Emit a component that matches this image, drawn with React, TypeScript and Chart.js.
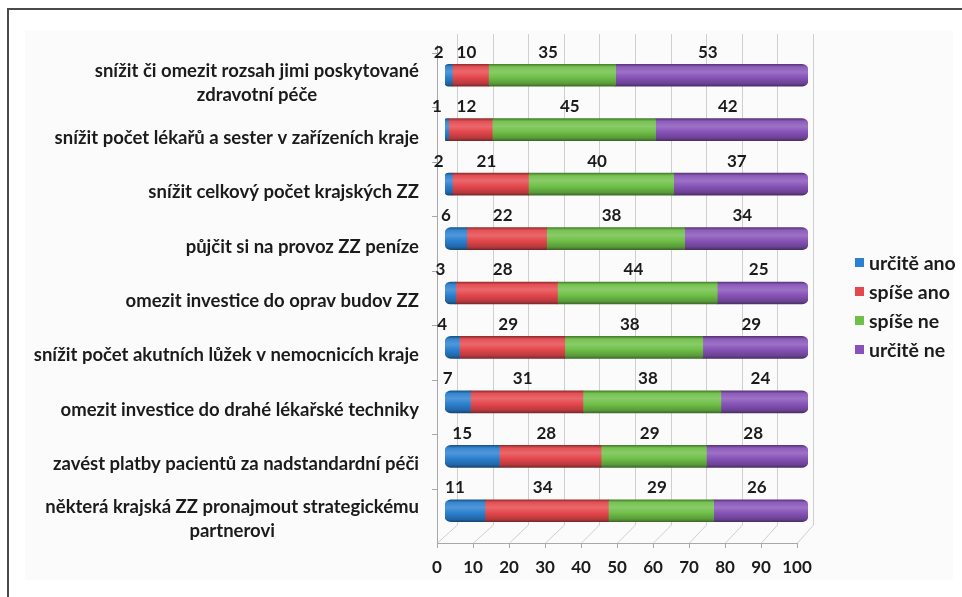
import React, { useEffect, useRef } from "react";
import { Chart, registerables } from "chart.js";

Chart.register(...registerables);

const categories: (string | string[])[] = [
  ["snížit či omezit rozsah jimi poskytované", "zdravotní péče"],
  "snížit počet lékařů a sester v zařízeních kraje",
  "snížit celkový počet krajských ZZ",
  "půjčit si na provoz ZZ peníze",
  "omezit investice do oprav budov ZZ",
  "snížit počet akutních lůžek v nemocnicích kraje",
  "omezit investice do drahé lékařské techniky",
  "zavést platby pacientů za nadstandardní péči",
  ["některá krajská ZZ pronajmout strategickému", "partnerovi"],
];

const seriesNames = ["určitě ano", "spíše ano", "spíše ne", "určitě ne"];
const urciteAno = [2, 1, 2, 6, 3, 4, 7, 15, 11];
const spiseAno = [10, 12, 21, 22, 28, 29, 31, 28, 34];
const spiseNe = [35, 45, 40, 38, 44, 38, 38, 29, 29];
const urciteNe = [53, 42, 37, 34, 25, 29, 24, 28, 26];
const xTickValues = [0, 10, 20, 30, 40, 50, 60, 70, 80, 90, 100];

const COLORS = ["#2b80cf", "#e4474c", "#6fc048", "#8753b8"];
const FONT = "Lato, 'Open Sans', sans-serif";
const TEXT = "#1b1b1b";

function mix(hex: string, target: number, t: number) {
  const n = parseInt(hex.slice(1), 16);
  const r = (n >> 16) & 255, g = (n >> 8) & 255, b = n & 255;
  const f = (c: number) => Math.round(c + (target - c) * t);
  return `rgb(${f(r)},${f(g)},${f(b)})`;
}

export default function App() {
  const ref = useRef<HTMLCanvasElement | null>(null);

  useEffect(() => {
    const canvas = ref.current;
    if (!canvas) return;
    const seriesData = [urciteAno, spiseAno, spiseNe, urciteNe];
    const BAR = 22;

    const frame = {
      id: "frame",
      beforeDraw(chart: any) {
        const ctx = chart.ctx;
        ctx.save();
        ctx.fillStyle = "#ffffff";
        ctx.fillRect(0, 0, chart.width, chart.height);
        ctx.fillStyle = "#fbfbfb";
        ctx.fillRect(25, 30, 928, 550);
        ctx.strokeStyle = "#4a4a4a";
        ctx.lineWidth = 2;
        ctx.beginPath();
        ctx.moveTo(7, 9);
        ctx.lineTo(chart.width, 9);
        ctx.moveTo(8, 9);
        ctx.lineTo(8, chart.height);
        ctx.stroke();
        ctx.restore();
      },
      beforeDatasetsDraw(chart: any) {
        const { ctx, chartArea, scales } = chart;
        const { left, right, top, bottom } = chartArea;
        const x = scales.x;
        const bL = left + 12, bR = right + 5, fL = left - 8, fR = right - 11;
        const backTop = top - 14, backBot = bottom - 13, frontBot = bottom + 5;
        const frac = (v: number) => (x.getPixelForValue(v) - left) / (right - left);
        const bx = (v: number) => bL + frac(v) * (bR - bL);
        const fx = (v: number) => fL + frac(v) * (fR - fL);
        ctx.save();
        ctx.lineWidth = 1;
        ctx.strokeStyle = "#cfcfcf";
        ctx.beginPath();
        xTickValues.forEach((v) => {
          const b = Math.round(bx(v)) + 0.5;
          const f = Math.round(fx(v)) + 0.5;
          ctx.moveTo(b, backTop);
          ctx.lineTo(b, backBot);
          ctx.lineTo(f, frontBot);
        });
        ctx.stroke();
        ctx.strokeStyle = "#a8a8a8";
        ctx.beginPath();
        ctx.moveTo(fL + 0.5, top - 3);
        ctx.lineTo(fL + 0.5, frontBot + 0.5);
        ctx.lineTo(fR, frontBot + 0.5);
        xTickValues.forEach((v) => {
          const f = Math.round(fx(v)) + 0.5;
          ctx.moveTo(f, frontBot);
          ctx.lineTo(f, frontBot + 5);
        });
        const y = scales.y;
        const step = (bottom - top) / categories.length;
        for (let i = 0; i < categories.length; i++) {
          const yy = Math.round(y.getPixelForValue(i) - step / 2 + 5) + 0.5;
          ctx.moveTo(fL - 5, yy);
          ctx.lineTo(fL, yy);
        }
        ctx.stroke();
        ctx.fillStyle = TEXT;
        ctx.font = `bold 17px ${FONT}`;
        ctx.textAlign = "center";
        ctx.textBaseline = "middle";
        xTickValues.forEach((v) => {
          ctx.fillText(String(v), fx(v), bottom + 30);
        });
        ctx.restore();
      },
      afterDraw(chart: any) {
        const { ctx, chartArea, scales } = chart;
        const { left, right, top, bottom } = chartArea;
        const x = scales.x, y = scales.y;
        ctx.save();
        ctx.fillStyle = TEXT;
        ctx.font = `bold 18.5px ${FONT}`;
        ctx.textBaseline = "middle";
        ctx.textAlign = "center";
        // category labels
        const labelRight = left - 26;
        categories.forEach((c, i) => {
          const lines = Array.isArray(c) ? c : [c];
          const w = Math.max(...lines.map((l) => ctx.measureText(l).width));
          const cx = labelRight - w / 2;
          const cy = y.getPixelForValue(i) + 8;
          lines.forEach((l, k) => {
            ctx.fillText(l, cx, cy + (k - (lines.length - 1) / 2) * 24);
          });
        });
        // value labels
        ctx.font = `bold 17px ${FONT}`;
        categories.forEach((_, i) => {
          let acc = 0;
          seriesData.forEach((arr, k) => {
            const v = arr[i];
            const mid = acc + v / 2;
            acc += v;
            const dx = k === 0 ? -10 : -4;
            ctx.fillText(String(v), x.getPixelForValue(mid) + dx, y.getPixelForValue(i) - 23);
          });
        });
        // legend
        ctx.font = `bold 19.5px ${FONT}`;
        ctx.textAlign = "left";
        const lx = right + 47;
        const lcy = (top + bottom) / 2 + 13;
        seriesNames.forEach((name, k) => {
          const yy = lcy + (k - 1.5) * 29;
          ctx.fillStyle = COLORS[k];
          ctx.fillRect(lx, yy - 4.5, 9, 9);
          ctx.fillStyle = TEXT;
          ctx.fillText(name, lx + 14, yy + 1);
        });
        ctx.restore();
      },
    };

    const makeBg = (k: number) => (c: any) => {
      const base = COLORS[k];
      const chart = c.chart;
      const ys = chart.scales && chart.scales.y;
      if (!ys || c.dataIndex === undefined) return base;
      const cy = ys.getPixelForValue(c.dataIndex);
      if (!isFinite(cy)) return base;
      const g = chart.ctx.createLinearGradient(0, cy - BAR / 2, 0, cy + BAR / 2);
      g.addColorStop(0, mix(base, 0, 0.35));
      g.addColorStop(0.12, mix(base, 255, 0.05));
      g.addColorStop(0.35, mix(base, 255, 0.18));
      g.addColorStop(0.6, base);
      g.addColorStop(0.88, mix(base, 0, 0.2));
      g.addColorStop(1, mix(base, 0, 0.45));
      return g;
    };

    const chart = new Chart(canvas, {
      type: "bar",
      data: {
        labels: categories as any,
        datasets: seriesData.map((arr, k) => ({
          label: seriesNames[k],
          data: arr,
          backgroundColor: makeBg(k),
          borderWidth: 0,
          borderSkipped: false,
          borderRadius:
            k === 0
              ? { topLeft: 6, bottomLeft: 6, topRight: 0, bottomRight: 0 }
              : k === 3
              ? { topLeft: 0, bottomLeft: 0, topRight: 6, bottomRight: 6 }
              : 0,
          barThickness: BAR,
        })),
      },
      options: {
        indexAxis: "y",
        responsive: false,
        animation: false,
        devicePixelRatio: 1,
        layout: { padding: { left: 445, right: 154, top: 48, bottom: 59 } },
        plugins: { legend: { display: false }, tooltip: { enabled: false } },
        scales: {
          x: { stacked: true, min: 0, max: 100, display: false },
          y: { stacked: true, display: false },
        },
      },
      plugins: [frame],
    });
    return () => chart.destroy();
  }, []);

  return (
    <div style={{ position: "fixed", left: 0, top: 0, width: 962, height: 597 }}>
      <canvas ref={ref} width={962} height={597} style={{ display: "block", width: 962, height: 597 }} />
    </div>
  );
}
